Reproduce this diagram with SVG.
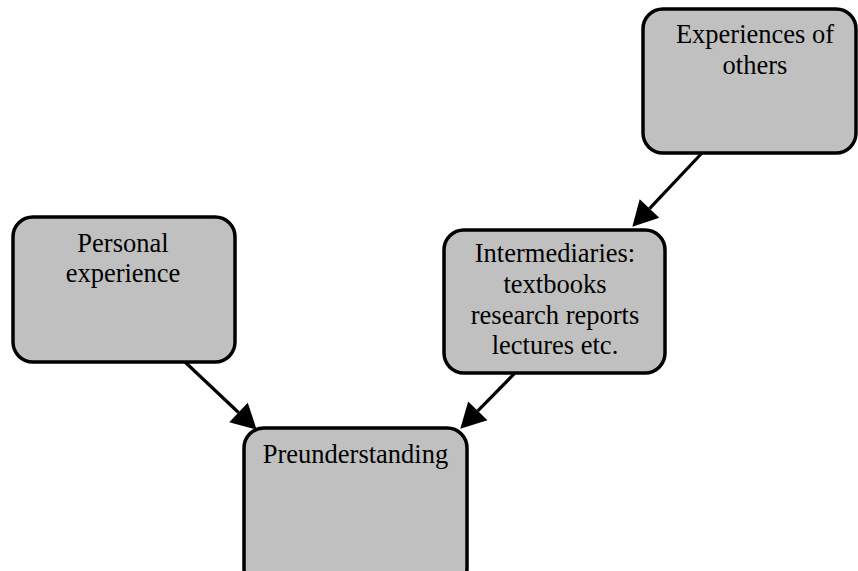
<svg xmlns="http://www.w3.org/2000/svg" width="858" height="571" viewBox="0 0 858 571">
<style>
.box{fill:#c0c0c0;stroke:#000;stroke-width:3.5}
.lbl{font-family:"Liberation Serif","Times New Roman",serif;font-size:26.5px;fill:#000;text-anchor:middle}
.conn{stroke:#000;stroke-width:3.2;fill:none;marker-end:url(#ah)}
</style>
<defs>
<marker id="ah" markerUnits="userSpaceOnUse" markerWidth="25" markerHeight="27" viewBox="0 0 25 27" refX="0" refY="13.5" orient="auto" overflow="visible">
<path d="M0,0 L25,13.5 L0,27 Z" fill="#000"/>
</marker>
</defs>
<rect width="858" height="571" fill="#fff"/>
<g id="experiences">
<rect class="box" x="643" y="9" width="213" height="144" rx="20"/>
<text class="lbl" x="755" y="43">Experiences of</text>
<text class="lbl" x="755" y="74">others</text>
</g>
<g id="personal">
<rect class="box" x="13" y="217" width="222" height="145" rx="20"/>
<text class="lbl" x="123" y="252">Personal</text>
<text class="lbl" x="123" y="282">experience</text>
</g>
<g id="intermediaries">
<rect class="box" x="444" y="230" width="221" height="143" rx="20"/>
<text class="lbl" x="555" y="262">Intermediaries:</text>
<text class="lbl" x="555" y="293">textbooks</text>
<text class="lbl" x="555" y="324">research reports</text>
<text class="lbl" x="555" y="354">lectures etc.</text>
</g>
<g id="preunderstanding">
<rect class="box" x="244" y="428" width="223" height="160" rx="20"/>
<text class="lbl" x="355.5" y="463">Preunderstanding</text>
</g>
<g id="connectors">
<line class="conn" x1="702" y1="153" x2="649.5" y2="208.6"/>
<line class="conn" x1="185" y1="362" x2="238.5" y2="412.5"/>
<line class="conn" x1="515" y1="373" x2="477.8" y2="410.9"/>
</g>
</svg>
